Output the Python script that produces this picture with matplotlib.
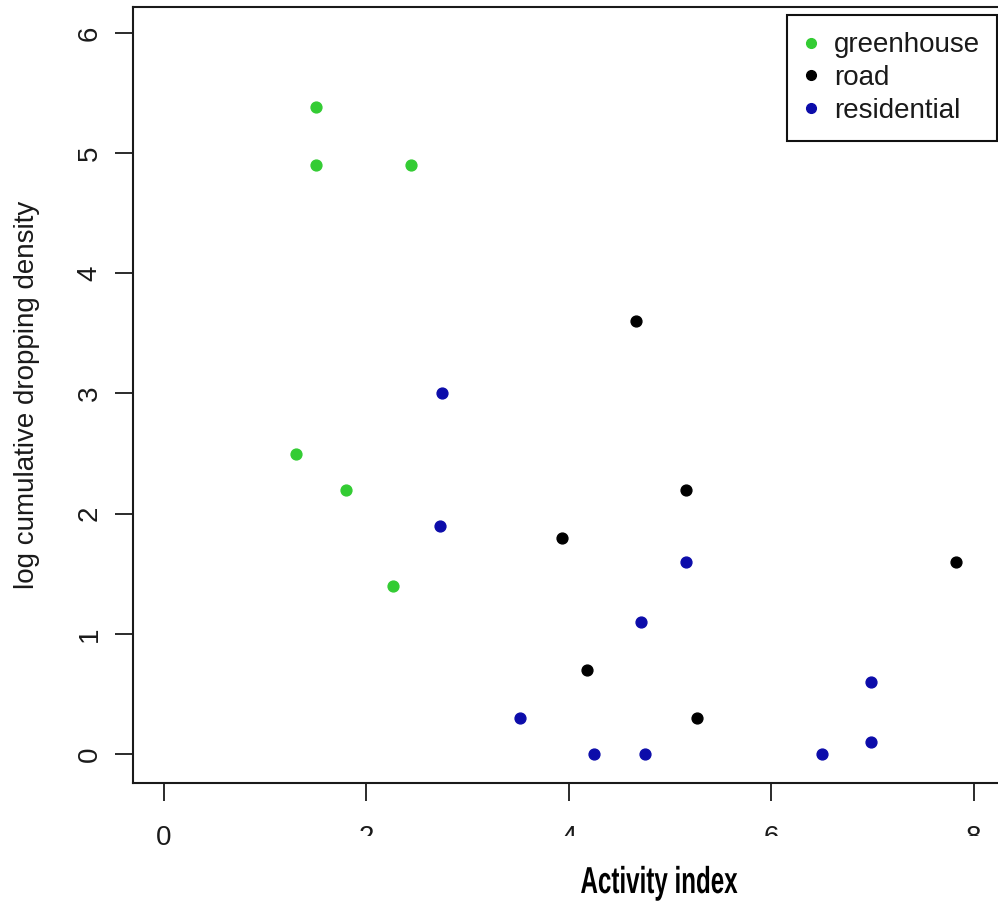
import matplotlib
matplotlib.use("Agg")
import matplotlib.pyplot as plt
from matplotlib.lines import Line2D
from matplotlib.patches import Rectangle
from matplotlib.transforms import Affine2D
from matplotlib import patheffects

# Activity index vs log cumulative dropping density, by site type
greenhouse_x = [1.50, 1.50, 2.44, 1.30, 1.80, 2.26]
greenhouse_y = [5.38, 4.90, 4.90, 2.50, 2.20, 1.40]

road_x = [4.66, 5.16, 3.93, 7.83, 4.18, 5.27]
road_y = [3.60, 2.20, 1.80, 1.60, 0.70, 0.30]

residential_x = [2.75, 2.73, 5.16, 4.71, 6.99, 3.52, 4.25, 4.75, 6.50, 6.99]
residential_y = [3.00, 1.90, 1.60, 1.10, 0.60, 0.30, 0.00, 0.00, 0.00, 0.10]

series_names = ["greenhouse", "road", "residential"]
series_colors = ["#33cc33", "#000000", "#0c0caa"]

x_ticks = [0, 2, 4, 6, 8]
y_ticks = [0, 1, 2, 3, 4, 5, 6]


class Squeeze(patheffects.AbstractPathEffect):
    """Horizontally condense a text path around a fixed x (display pixels)."""

    def __init__(self, sx, cx):
        super().__init__()
        self.sx = sx
        self.cx = cx

    def draw_path(self, renderer, gc, tpath, affine, rgbFace=None):
        t = affine + Affine2D().translate(-self.cx, 0).scale(self.sx, 1).translate(self.cx, 0)
        renderer.draw_path(gc, tpath, t, rgbFace)


W, H = 998, 901
fig = plt.figure(figsize=(W / 100, H / 100), dpi=100)
fig.patch.set_facecolor("white")

# axes geometry in pixels
left_px, top_px, bottom_px = 133, 7, 783
x0_px, px_per_x = 164, 101.2
y0_px, px_per_y = 754, 120.17
xmin = (left_px - x0_px) / px_per_x
xmax = 8.35
right_px = x0_px + xmax * px_per_x
ymin = (y0_px - bottom_px) / px_per_y
ymax = (y0_px - top_px) / px_per_y

ax = fig.add_axes([left_px / W, 1 - bottom_px / H,
                   (right_px - left_px) / W, (bottom_px - top_px) / H])
ax.set_xlim(xmin, xmax)
ax.set_ylim(ymin, ymax)

font = "Liberation Sans"
fs = 20
all_series = [(greenhouse_x, greenhouse_y), (road_x, road_y), (residential_x, residential_y)]
for (xs, ys), name, col in zip(all_series, series_names, series_colors):
    ax.plot(xs, ys, linestyle="none", marker="o", markersize=7.8,
            markerfacecolor=col, markeredgecolor=col, label=name)

for s in ax.spines.values():
    s.set_linewidth(1.5)
    s.set_color("#1a1a1a")

ax.set_xticks(x_ticks)
ax.set_yticks(y_ticks)
ax.tick_params(axis="both", length=13, width=1.3, color="#1a1a1a",
               labelsize=fs, labelcolor="#1a1a1a")
ax.tick_params(axis="x", pad=17)
ax.tick_params(axis="y", pad=9)
for lab in ax.get_xticklabels() + ax.get_yticklabels():
    lab.set_fontfamily(font)
for lab in ax.get_yticklabels():
    lab.set_rotation(90)
    lab.set_va("center")

fig.text(27 / W, 1 - 395 / H, "log cumulative dropping density", rotation=90,
         ha="center", va="center", fontsize=fs, family=font, color="#1a1a1a")

# white band behind the x label
fig.add_artist(Rectangle((185 / W, 0), 1 - 185 / W, 1 - 836 / H,
                         transform=fig.transFigure, facecolor="white",
                         edgecolor="none", zorder=5))
xlab_cx = 659
xlab = fig.text(xlab_cx / W, 1 - 893 / H, "Activity index", ha="center", va="baseline",
                fontsize=27, fontweight="bold", family=font,
                color="black", zorder=6)
fig.canvas.draw()
full_w = xlab.get_window_extent().width
xlab.set_path_effects([Squeeze(157 / full_w, xlab_cx)])

handles = [Line2D([], [], linestyle="none", marker="o", markersize=7,
                  markerfacecolor=c, markeredgecolor=c) for c in series_colors]
leg = ax.legend(handles, series_names, loc="upper right",
                bbox_to_anchor=(997 / W, 1 - 15 / H), bbox_transform=fig.transFigure,
                frameon=True, fancybox=False, framealpha=1, edgecolor="#111111",
                prop={"family": font, "size": fs}, handlelength=0.5,
                handletextpad=0.57, labelspacing=0.24, borderpad=0.62,
                borderaxespad=0)
leg.get_frame().set_linewidth(1.5)
for t in leg.get_texts():
    t.set_color("#1a1a1a")

fig.savefig("out.png", dpi=100, facecolor="white")
